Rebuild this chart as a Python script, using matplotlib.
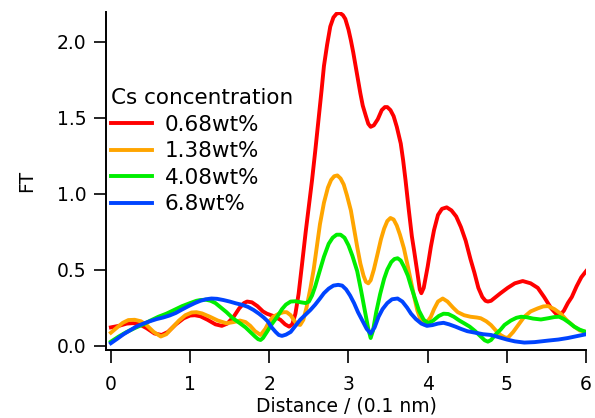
import matplotlib
matplotlib.use("Agg")
import matplotlib.pyplot as plt

plt.rcParams['font.family'] = ['DejaVu Sans']

# FT curves, one per Cs concentration
x_068 = [0.00, 0.10, 0.20, 0.28, 0.36, 0.45, 0.55, 0.64, 0.72, 0.82, 0.92, 1.00, 1.06, 1.13, 1.22, 1.32,
         1.40, 1.47, 1.55, 1.62, 1.68, 1.72, 1.78, 1.85, 1.92, 1.97, 2.05, 2.14, 2.20, 2.25, 2.29, 2.33,
         2.37, 2.41, 2.46, 2.50, 2.54, 2.58, 2.62, 2.66, 2.69, 2.73, 2.77, 2.81, 2.85, 2.89, 2.93, 2.96,
         3.00, 3.03, 3.06, 3.09, 3.12, 3.15, 3.18, 3.22, 3.25, 3.28, 3.32, 3.37, 3.42, 3.46, 3.49, 3.53,
         3.57, 3.61, 3.66, 3.69, 3.72, 3.76, 3.80, 3.83, 3.87, 3.90, 3.92, 3.95, 4.00, 4.04, 4.08, 4.13,
         4.18, 4.24, 4.30, 4.36, 4.42, 4.48, 4.54, 4.59, 4.64, 4.69, 4.73, 4.76, 4.80, 4.86, 4.92, 5.01,
         5.10, 5.20, 5.30, 5.39, 5.47, 5.56, 5.62, 5.67, 5.72, 5.77, 5.82, 5.88, 5.94, 6.00]
y_068 = [0.12, 0.13, 0.145, 0.148, 0.14, 0.115, 0.08, 0.07, 0.09, 0.14, 0.18, 0.198, 0.20, 0.193, 0.17, 0.14,
         0.13, 0.145, 0.19, 0.245, 0.28, 0.29, 0.285, 0.26, 0.225, 0.21, 0.195, 0.17, 0.14, 0.125, 0.14, 0.21,
         0.34, 0.52, 0.75, 0.92, 1.09, 1.28, 1.48, 1.68, 1.84, 1.98, 2.10, 2.16, 2.185, 2.19, 2.175, 2.15,
         2.08, 2.01, 1.93, 1.84, 1.75, 1.66, 1.58, 1.51, 1.46, 1.44, 1.45, 1.49, 1.55, 1.57, 1.57, 1.55,
         1.51, 1.44, 1.33, 1.22, 1.09, 0.90, 0.72, 0.62, 0.48, 0.37, 0.345, 0.38, 0.52, 0.65, 0.76, 0.86,
         0.90, 0.91, 0.89, 0.85, 0.78, 0.69, 0.57, 0.48, 0.38, 0.32, 0.295, 0.29, 0.295, 0.32, 0.345, 0.38,
         0.41, 0.425, 0.41, 0.38, 0.32, 0.245, 0.21, 0.20, 0.23, 0.28, 0.32, 0.39, 0.45, 0.49]

x_138 = [0.00, 0.08, 0.15, 0.22, 0.30, 0.38, 0.45, 0.54, 0.63, 0.70, 0.78, 0.86, 0.94, 1.02, 1.08, 1.15,
         1.25, 1.35, 1.46, 1.55, 1.63, 1.70, 1.76, 1.82, 1.89, 1.95, 2.00, 2.05, 2.12, 2.18, 2.22, 2.27,
         2.32, 2.36, 2.39, 2.43, 2.47, 2.52, 2.56, 2.60, 2.64, 2.69, 2.74, 2.78, 2.82, 2.86, 2.90, 2.94,
         2.98, 3.03, 3.07, 3.11, 3.15, 3.19, 3.22, 3.25, 3.28, 3.32, 3.37, 3.41, 3.45, 3.49, 3.53, 3.57,
         3.61, 3.65, 3.70, 3.75, 3.79, 3.83, 3.87, 3.91, 3.95, 4.00, 4.04, 4.08, 4.13, 4.19, 4.25, 4.32,
         4.38, 4.46, 4.54, 4.62, 4.67, 4.74, 4.80, 4.86, 4.92, 4.97, 5.01, 5.08, 5.15, 5.22, 5.30, 5.39,
         5.46, 5.52, 5.60, 5.68, 5.76, 5.85, 5.92, 6.00]
y_138 = [0.085, 0.12, 0.15, 0.168, 0.17, 0.16, 0.135, 0.09, 0.06, 0.075, 0.12, 0.165, 0.20, 0.218, 0.22, 0.212,
         0.19, 0.165, 0.147, 0.155, 0.165, 0.155, 0.13, 0.095, 0.07, 0.11, 0.16, 0.19, 0.21, 0.22, 0.22, 0.20,
         0.16, 0.14, 0.136, 0.17, 0.25, 0.38, 0.50, 0.65, 0.80, 0.94, 1.04, 1.09, 1.115, 1.12, 1.10, 1.06,
         0.99, 0.89, 0.77, 0.65, 0.54, 0.46, 0.42, 0.41, 0.43, 0.50, 0.61, 0.70, 0.77, 0.82, 0.84, 0.83,
         0.79, 0.73, 0.64, 0.52, 0.42, 0.32, 0.23, 0.17, 0.14, 0.16, 0.19, 0.24, 0.29, 0.31, 0.29, 0.25,
         0.22, 0.20, 0.19, 0.185, 0.18, 0.16, 0.135, 0.10, 0.07, 0.055, 0.05, 0.09, 0.14, 0.19, 0.225, 0.245,
         0.258, 0.26, 0.24, 0.21, 0.165, 0.125, 0.10, 0.09]

x_408 = [0.00, 0.10, 0.20, 0.30, 0.41, 0.50, 0.60, 0.70, 0.80, 0.90, 1.00, 1.08, 1.13, 1.20, 1.26, 1.32,
         1.39, 1.46, 1.54, 1.63, 1.70, 1.76, 1.82, 1.86, 1.89, 1.92, 1.97, 2.03, 2.10, 2.16, 2.21, 2.27,
         2.33, 2.40, 2.46, 2.50, 2.54, 2.58, 2.63, 2.69, 2.75, 2.80, 2.85, 2.90, 2.95, 3.00, 3.05, 3.11,
         3.16, 3.21, 3.25, 3.28, 3.31, 3.35, 3.40, 3.45, 3.49, 3.54, 3.58, 3.62, 3.66, 3.70, 3.75, 3.79,
         3.84, 3.89, 3.95, 4.01, 4.07, 4.14, 4.20, 4.26, 4.33, 4.40, 4.46, 4.53, 4.60, 4.66, 4.72, 4.76,
         4.80, 4.86, 4.92, 4.97, 5.05, 5.12, 5.18, 5.25, 5.33, 5.43, 5.52, 5.60, 5.66, 5.72, 5.79, 5.85,
         5.92, 6.00]
y_408 = [0.026, 0.06, 0.09, 0.115, 0.14, 0.165, 0.19, 0.21, 0.235, 0.26, 0.28, 0.295, 0.30, 0.302, 0.295, 0.28,
         0.25, 0.22, 0.18, 0.147, 0.12, 0.09, 0.06, 0.042, 0.037, 0.05, 0.09, 0.14, 0.19, 0.24, 0.27, 0.29,
         0.292, 0.285, 0.28, 0.29, 0.33, 0.39, 0.48, 0.585, 0.67, 0.71, 0.73, 0.73, 0.71, 0.66, 0.59, 0.49,
         0.36, 0.22, 0.11, 0.05, 0.10, 0.22, 0.34, 0.44, 0.50, 0.55, 0.57, 0.575, 0.56, 0.52, 0.46, 0.39,
         0.31, 0.23, 0.17, 0.147, 0.165, 0.195, 0.21, 0.208, 0.19, 0.165, 0.147, 0.125, 0.095, 0.065, 0.035, 0.026,
         0.037, 0.075, 0.105, 0.136, 0.165, 0.183, 0.19, 0.187, 0.178, 0.172, 0.18, 0.188, 0.19, 0.175, 0.15, 0.125,
         0.105, 0.09]

x_68 = [0.00, 0.08, 0.16, 0.24, 0.32, 0.41, 0.49, 0.58, 0.66, 0.74, 0.82, 0.90, 0.98, 1.06, 1.13, 1.20,
        1.27, 1.34, 1.42, 1.50, 1.58, 1.66, 1.73, 1.80, 1.87, 1.93, 1.98, 2.03, 2.08, 2.12, 2.16, 2.21,
        2.27, 2.33, 2.39, 2.46, 2.52, 2.58, 2.64, 2.69, 2.75, 2.81, 2.87, 2.92, 2.97, 3.02, 3.07, 3.12,
        3.18, 3.23, 3.28, 3.33, 3.38, 3.43, 3.49, 3.55, 3.62, 3.68, 3.74, 3.79, 3.85, 3.92, 3.99, 4.06,
        4.13, 4.20, 4.27, 4.35, 4.42, 4.50, 4.60, 4.70, 4.80, 4.90, 5.00, 5.10, 5.22, 5.35, 5.52, 5.65,
        5.77, 5.88, 6.00]
y_68 = [0.016, 0.045, 0.075, 0.10, 0.125, 0.145, 0.16, 0.175, 0.185, 0.198, 0.215, 0.238, 0.26, 0.28, 0.295, 0.305,
        0.31, 0.308, 0.30, 0.29, 0.278, 0.268, 0.255, 0.235, 0.21, 0.185, 0.16, 0.12, 0.09, 0.07, 0.064, 0.072,
        0.09, 0.13, 0.17, 0.205, 0.235, 0.27, 0.31, 0.345, 0.375, 0.395, 0.40, 0.395, 0.37, 0.33, 0.28, 0.22,
        0.16, 0.11, 0.08, 0.12, 0.19, 0.24, 0.28, 0.305, 0.31, 0.29, 0.25, 0.21, 0.175, 0.145, 0.13, 0.135,
        0.145, 0.15, 0.14, 0.125, 0.11, 0.095, 0.085, 0.075, 0.07, 0.055, 0.04, 0.028, 0.02, 0.023, 0.033, 0.04,
        0.05, 0.062, 0.075]

labels = ['0.68wt%', '1.38wt%', '4.08wt%', '6.8wt%']
colors = ['#ff0000', '#ffa500', '#00ee00', '#0044ff']

fig = plt.figure(figsize=(5.95, 4.18), dpi=100)
ax = fig.add_axes([0.178, 0.163, 0.807, 0.808])

series = [(x_068, y_068), (x_138, y_138), (x_408, y_408), (x_68, y_68)]
for (xs, ys), lab, c in zip(series, labels, colors):
    ax.plot(xs, ys, color=c, lw=2.8, label=lab, solid_joinstyle='round')

ax.set_xlim(-0.063, 6.0)
ax.set_ylim(-0.028, 2.195)
ax.set_xticks([0, 1, 2, 3, 4, 5, 6])
ax.set_yticks([0.0, 0.5, 1.0, 1.5, 2.0])
ax.set_yticklabels(['0.0', '0.5', '1.0', '1.5', '2.0'])
ax.spines['top'].set_visible(False)
ax.spines['right'].set_visible(False)
for s in ['left', 'bottom']:
    ax.spines[s].set_linewidth(1.4)
ax.tick_params(direction='out', length=9, width=1.2, labelsize=13.5, pad=5)
ax.tick_params(axis='x', pad=9)

ax.set_xlabel('Distance / (0.1 nm)', fontsize=13.5, labelpad=2)
ax.set_ylabel('FT', fontsize=13.5, labelpad=15)

leg = ax.legend(title='Cs concentration', loc='upper left', bbox_to_anchor=(-0.008, 0.8),
                frameon=False, fontsize=15.5, title_fontsize=15.5, handlelength=1.9,
                handletextpad=0.6, labelspacing=0.3, borderaxespad=0)
leg._legend_box.align = 'left'

fig.savefig('out.png', dpi=100)
